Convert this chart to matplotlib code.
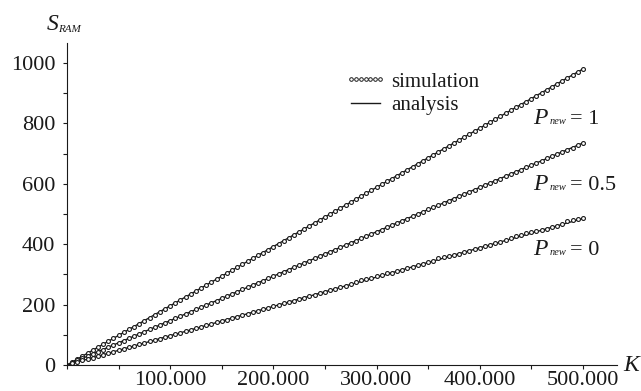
import numpy as np
import matplotlib.pyplot as plt
from matplotlib.lines import Line2D
from matplotlib.ticker import MultipleLocator, FuncFormatter

plt.rcParams["font.family"] = "Liberation Serif"

# simulation points: K = 5.000 ... 500.000 in steps of 5.000
k_sim = np.arange(5000, 500001, 5000)

s_sim_p1 = [10, 20, 29, 39, 49, 59, 69, 78, 88, 98,
            108, 118, 127, 137, 147, 157, 167, 176, 186, 196,
            206, 216, 225, 235, 245, 255, 265, 274, 284, 294,
            304, 314, 323, 333, 343, 353, 363, 372, 382, 392,
            402, 412, 421, 431, 441, 451, 461, 470, 480, 490,
            500, 510, 519, 529, 539, 549, 559, 568, 578, 588,
            598, 608, 617, 627, 637, 647, 657, 666, 676, 686,
            696, 706, 715, 725, 735, 745, 755, 764, 774, 784,
            794, 804, 813, 823, 833, 843, 853, 862, 872, 882,
            892, 902, 911, 921, 931, 941, 951, 960, 970, 980]

s_sim_p05 = [7, 15, 22, 29, 37, 44, 51, 59, 66, 74,
             81, 88, 96, 103, 110, 118, 125, 132, 140, 147,
             154, 162, 169, 176, 184, 191, 198, 206, 213, 221,
             228, 235, 243, 250, 257, 265, 272, 279, 287, 294,
             301, 309, 316, 323, 331, 338, 345, 353, 360, 368,
             375, 382, 390, 397, 404, 412, 419, 426, 434, 441,
             448, 456, 463, 470, 478, 485, 492, 500, 507, 515,
             522, 529, 537, 544, 551, 559, 566, 573, 581, 588,
             595, 603, 610, 617, 625, 632, 639, 647, 654, 662,
             669, 676, 684, 691, 698, 706, 713, 720, 728, 735]

s_sim_p0 = [5, 10, 15, 19, 24, 29, 34, 39, 44, 49,
            53, 58, 63, 68, 73, 78, 82, 87, 92, 97,
            102, 107, 112, 116, 121, 126, 131, 136, 141, 146,
            150, 155, 160, 165, 170, 175, 179, 184, 189, 194,
            199, 204, 209, 213, 218, 223, 228, 233, 238, 243,
            247, 252, 257, 263, 269, 274, 280, 284, 288, 295,
            299, 305, 306, 311, 315, 320, 325, 330, 335, 340,
            345, 353, 356, 360, 364, 369, 373, 378, 383, 388,
            393, 398, 403, 408, 413, 420, 427, 431, 436, 440,
            442, 447, 451, 456, 461, 468, 476, 481, 484, 486]

# analytical lines
k_line = [0, 500000]
s_line_p1 = [0, 980]
s_line_p05 = [0, 735]
s_line_p0 = [0, 485]

labels = ["1", "0.5", "0"]
label_y = [798, 580, 364]   # baseline of the P_new labels

ink = "#1a1a1a"

fig = plt.figure(figsize=(6.41, 3.91), dpi=100)
ax = fig.add_axes([0.1045, 0.0665, 0.858, 0.8235])

for s_line, s_sim in [(s_line_p1, s_sim_p1), (s_line_p05, s_sim_p05), (s_line_p0, s_sim_p0)]:
    ax.plot(k_line, s_line, color=ink, linewidth=1.0)
    ax.plot(k_sim, s_sim, linestyle="none", marker="o", markersize=2.8,
            markerfacecolor="white", markeredgecolor=ink, markeredgewidth=0.8)

for lab, y in zip(labels, label_y):
    ax.text(452000, y, "P", fontsize=17, fontstyle="italic", color=ink,
            va="baseline", ha="left")
    ax.annotate("new", (452000, y), xytext=(11.5, 0), textcoords="offset points",
                fontsize=7.5, fontstyle="italic", color=ink, va="baseline")
    ax.annotate("= " + lab, (452000, y), xytext=(26.5, 0), textcoords="offset points",
                fontsize=16, color=ink, va="baseline")

ax.set_xlim(0, 533000)
ax.set_ylim(0, 1066)
ax.spines["top"].set_visible(False)
ax.spines["right"].set_visible(False)
ax.spines["left"].set_color(ink)
ax.spines["bottom"].set_color(ink)

ax.xaxis.set_major_locator(MultipleLocator(100000))
ax.xaxis.set_minor_locator(MultipleLocator(50000))
ax.yaxis.set_major_locator(MultipleLocator(200))
ax.yaxis.set_minor_locator(MultipleLocator(100))
ax.xaxis.set_major_formatter(FuncFormatter(
    lambda v, p: "" if v == 0 else f"{int(v):,}".replace(",", ".")))
ax.tick_params(which="both", direction="out", length=3, width=0.8,
               color=ink, labelsize=16, labelcolor=ink)
ax.tick_params(axis="y", pad=5.5)
ax.tick_params(axis="x", pad=1.5)

# axis names
fig.text(0.0733, 0.923, "S", fontsize=17, fontstyle="italic", color=ink, va="baseline")
fig.text(0.0905, 0.918, "RAM", fontsize=8, fontstyle="italic", color=ink, va="baseline")
fig.text(0.972, 0.064, "K", fontsize=17, fontstyle="italic", color=ink, va="center")

handles = [
    Line2D([], [], linestyle="none", marker="o", markersize=2.6,
           markerfacecolor="white", markeredgecolor=ink, markeredgewidth=0.7),
    Line2D([], [], color=ink, linewidth=1.0),
]
ax.legend(handles, ["simulation", "analysis"], loc="upper left",
          bbox_to_anchor=(0.505, 0.91), frameon=False, fontsize=15,
          numpoints=7, handlelength=2.0, handletextpad=0.25,
          labelspacing=0.2, borderpad=0, borderaxespad=0, labelcolor=ink)

fig.savefig("out.png", dpi=100)
